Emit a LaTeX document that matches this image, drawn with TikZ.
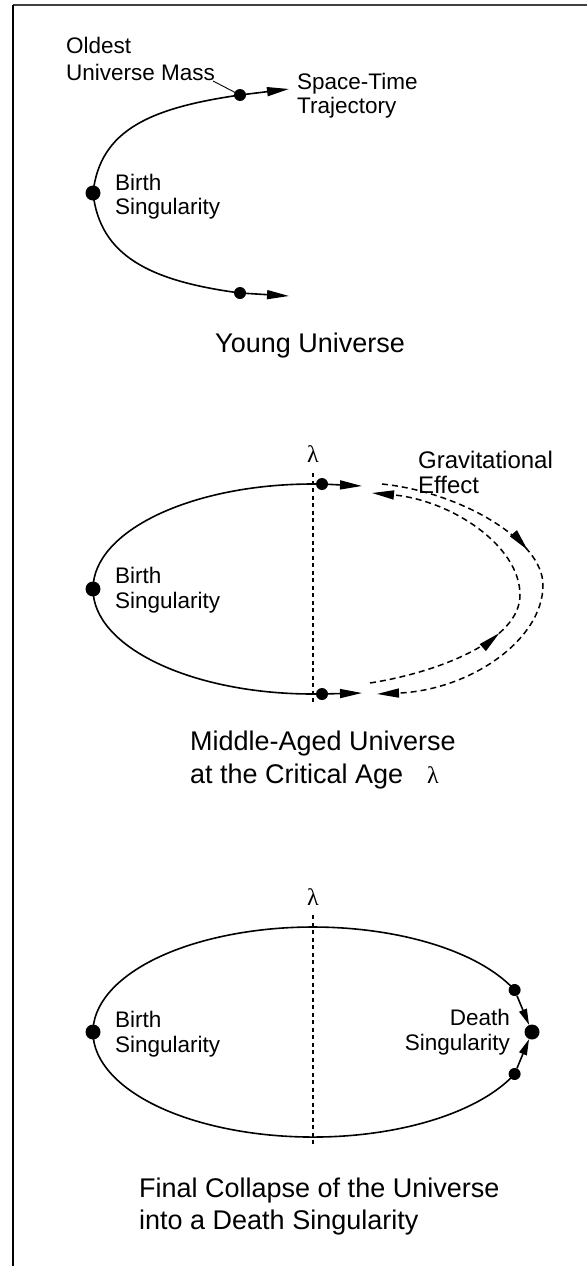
\documentclass[tikz,border=0pt]{standalone}
\usepackage{fontspec}
\setmainfont{Liberation Sans}
\newfontfamily\lamfont{Liberation Serif}
\usetikzlibrary{arrows.meta,decorations.markings}
\begin{document}
\begin{tikzpicture}[x=1pt,y=-1pt,
  curve/.style={line width=1.6pt},
  dot/.style={circle,fill=black,inner sep=0pt,minimum size=12pt},
  bigdot/.style={circle,fill=black,inner sep=0pt,minimum size=15pt},
  lbl/.style={anchor=base west,inner sep=0pt,font=\fontsize{22.5}{25}\selectfont},
  lble/.style={anchor=base east,inner sep=0pt,font=\fontsize{22.5}{25}\selectfont},
  capt/.style={anchor=base west,inner sep=0pt,font=\fontsize{27}{32}\selectfont},
  lamtxt/.style={anchor=base,inner sep=0pt,font=\lamfont\fontsize{24}{28}\selectfont},
  arr/.style={-{Triangle[length=22pt,width=9pt]},line width=1.6pt},
  sarr/.style={-{Triangle[length=16pt,width=8pt]},line width=1.6pt},
  dashc/.style={line width=1.5pt,dash pattern=on 6pt off 4pt,-{Triangle[length=22pt,width=9pt]}},
  midarrow/.style={postaction={decorate},decoration={markings,
     mark=at position #1 with {\arrow{Triangle[length=22pt,width=9pt]}}}},
  lamline/.style={line width=1.8pt,dash pattern=on 4pt off 3.5pt},
  leader/.style={line width=0.9pt}
]
\useasboundingbox (0,0) rectangle (587,1266);
% frame
\coordinate (f0) at (13,4.5);
\coordinate (f1) at (587,4.5);
\coordinate (f2) at (13,1266);
\draw[line width=2pt,black!75] (f0) -- (f1);
\draw[line width=2pt] (f0) -- (f2);

% ---------- Panel 1 ----------
\node[dot] (u1) at (240,95) {};
\node[bigdot] (b1) at (93,193) {};
\node[dot] (l1) at (240,293) {};
\draw[curve] (u1.center) .. controls (150,108) and (100,130) .. (b1.center)
             .. controls (100,256) and (150,281) .. (l1.center);
\coordinate (u1t) at (289,89);
\coordinate (l1t) at (289,296);
\draw[arr] (u1) -- (u1t);
\draw[arr] (l1) -- (l1t);
\node[lbl] (old1) at (66,53) {Oldest};
\node[lbl] (old2) at (66,80) {Universe Mass};
\coordinate (lead) at (213,81);
\draw[leader] (lead) -- (u1.center);
\node[lbl] (st1) at (297,89) {Space-Time};
\node[lbl] (st2) at (297,113) {Trajectory};
\node[lbl] (bs1a) at (115,190) {Birth};
\node[lbl] (bs1b) at (115,214) {Singularity};
\node[capt] (young) at (215,352) {Young Universe};

% ---------- Panel 2 ----------
\node[dot] (u2) at (322,484) {};
\node[dot] (l2) at (322,694) {};
\node[bigdot] (b2) at (93,589) {};
\coordinate (lt2) at (313,473);
\coordinate (lb2) at (313,703);
\draw[lamline] (lt2) -- (lb2);
\draw[curve] (u2.center) -- (313,484) arc[start angle=270,end angle=90,x radius=220,y radius=105] -- (l2.center);
\coordinate (u2t) at (362,486);
\coordinate (l2t) at (362,693);
\draw[arr] (u2) -- (u2t);
\draw[arr] (l2) -- (l2t);
\node[lamtxt] (lam2) at (313,462) {λ};
\coordinate (o1) at (382,484);
\coordinate (o2) at (377,694);
\draw[dashc,midarrow=0.39] (o1) .. controls (460,492) and (543,540) .. (543,585)
      .. controls (543,640) and (470,690) .. (o2);
\coordinate (i1) at (370,683);
\coordinate (i2) at (372,493);
\draw[dashc,midarrow=0.37] (i1) .. controls (440,672) and (520,640) .. (520,595)
      .. controls (520,545) and (450,500) .. (i2);
\node[lbl,font=\fontsize{24}{26}\selectfont] (grav1) at (418,468) {Gravitational};
\node[lbl,font=\fontsize{24}{26}\selectfont] (grav2) at (418,493) {Effect};
\node[lbl] (bs2a) at (115,583) {Birth};
\node[lbl] (bs2b) at (115,608) {Singularity};
\node[capt] (mid1) at (190,750) {Middle-Aged Universe};
\node[capt] (mid2) at (190,783) {at the Critical Age};
\node[lamtxt,anchor=base west] (mid3) at (427,783) {λ};

% ---------- Panel 3 ----------
\node[bigdot] (b3) at (93,1032) {};
\node[bigdot] (d3) at (532,1032) {};
\node[dot] (s3u) at (514.6,990) {};
\node[dot] (s3l) at (514.6,1074) {};
\coordinate (lt3) at (313,915);
\coordinate (lb3) at (313,1145);
\draw[lamline] (lt3) -- (lb3);
\draw[curve] (s3u.center) arc[start angle=-23.6,end angle=-336.4,x radius=220,y radius=105];
\draw[sarr] (s3u) -- (d3);
\draw[sarr] (s3l) -- (d3);
\node[lamtxt] (lam3) at (313,905) {λ};
\node[lbl] (bs3a) at (115,1027) {Birth};
\node[lbl] (bs3b) at (115,1052) {Singularity};
\node[lble] (ds3a) at (510,1025) {Death};
\node[lble] (ds3b) at (510,1050) {Singularity};
\node[capt] (fin1) at (139,1197) {Final Collapse of the Universe};
\node[capt] (fin2) at (139,1229) {into a Death Singularity};
\end{tikzpicture}
\end{document}
